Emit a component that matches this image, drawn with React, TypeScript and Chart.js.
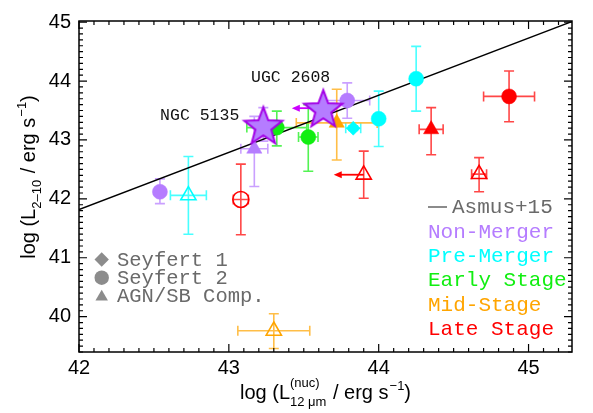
import { useEffect, useRef } from "react";
import { Chart, registerables } from "chart.js";
Chart.register(...registerables);

// ---- axis ranges / ticks ----
const xRange = [42, 45.29];
const yRange = [39.4, 45.02];
const xTickValues = [42, 43, 44, 45];
const yTickValues = [40, 41, 42, 43, 44, 45];

// ---- Asmus+15 relation (two end points) ----
const asmusX = [42, 45.3];
const asmusY = [41.82, 45.02];

// ---- Non-Merger ----
const nonMergerX = [42.54, 43.17, 43.79];
const nonMergerY = [42.12, 42.85, 43.67];
const nonMergerShape = ["circle", "triangle", "circle"];
const nonMergerOpen = [false, false, false];
const nonMergerXErr = [0, 0.09, 0.15];
const nonMergerYErrUp = [0.22, 0.55, 0.3];
const nonMergerYErrDn = [0.2, 0.64, 0.3];

// ---- Pre-Merger ----
const preMergerX = [42.73, 43.83, 44.0, 44.25];
const preMergerY = [42.06, 43.2, 43.36, 44.04];
const preMergerShape = ["triangle", "rectRot", "circle", "circle"];
const preMergerOpen = [true, false, false, false];
const preMergerXErr = [0.12, 0.05, 0, 0];
const preMergerYErrUp = [0.66, 0.04, 0.47, 0.55];
const preMergerYErrDn = [0.66, 0.04, 0.47, 0.55];

// ---- Early Stage ----
const earlyX = [43.32, 43.53];
const earlyY = [43.21, 43.05];
const earlyShape = ["circle", "circle"];
const earlyOpen = [false, false];
const earlyXErr = [0.2, 0.065];
const earlyYErrUp = [0.28, 0.55];
const earlyYErrDn = [0.31, 0.58];

// ---- Mid-Stage ----
const midX = [43.72, 43.3];
const midY = [43.29, 39.76];
const midShape = ["triangle", "triangle"];
const midOpen = [false, true];
const midXErr = [0.27, 0.24];
const midYErrUp = [0.57, 0.29];
const midYErrDn = [0.63, 0.3];

// ---- Late Stage ----
const lateX = [43.08, 43.9, 44.35, 44.87, 44.67];
const lateY = [41.99, 42.41, 43.18, 43.74, 42.42];
const lateShape = ["circle", "triangle", "triangle", "circle", "triangle"];
const lateOpen = [true, true, false, false, true];
const lateXErr = [0.05, 0, 0.08, 0.17, 0.05];
const lateYErrUp = [0.6, 0.4, 0.37, 0.43, 0.28];
const lateYErrDn = [0.6, 0.4, 0.43, 0.43, 0.3];

// ---- highlighted sources (stars) ----
const starNames = ["NGC 5135", "UGC 2608"];
const starX = [43.23, 43.63];
const starY = [43.25, 43.54];
const starYErrUp = [0.3, 0.0];
const starYErrDn = [0.27, 0.0];

// ---- x upper limits (arrows) ----
const limitFromX = [43.63, 43.9];
const limitToX = [43.42, 43.7];
const limitY = [43.54, 42.41];
const limitColor = ["#cc00ff", "#ff0000"];

// ---- legends ----
const stageNames = ["Non-Merger", "Pre-Merger", "Early Stage", "Mid-Stage", "Late Stage"];
const stageColors = ["#b57cff", "#00ffff", "#11ee11", "#ffa500", "#ff0000"];
const typeNames = ["Seyfert 1", "Seyfert 2", "AGN/SB Comp."];
const typeShapes = ["rectRot", "circle", "triangle"];

const groups = [
  { name: stageNames[0], color: stageColors[0], x: nonMergerX, y: nonMergerY, shape: nonMergerShape, open: nonMergerOpen, xe: nonMergerXErr, yu: nonMergerYErrUp, yd: nonMergerYErrDn },
  { name: stageNames[1], color: stageColors[1], x: preMergerX, y: preMergerY, shape: preMergerShape, open: preMergerOpen, xe: preMergerXErr, yu: preMergerYErrUp, yd: preMergerYErrDn },
  { name: stageNames[2], color: stageColors[2], x: earlyX, y: earlyY, shape: earlyShape, open: earlyOpen, xe: earlyXErr, yu: earlyYErrUp, yd: earlyYErrDn },
  { name: stageNames[3], color: stageColors[3], x: midX, y: midY, shape: midShape, open: midOpen, xe: midXErr, yu: midYErrUp, yd: midYErrDn },
  { name: stageNames[4], color: stageColors[4], x: lateX, y: lateY, shape: lateShape, open: lateOpen, xe: lateXErr, yu: lateYErrUp, yd: lateYErrDn },
];

function hexA(hex: string, a: number) {
  const n = parseInt(hex.slice(1), 16);
  return `rgba(${(n >> 16) & 255},${(n >> 8) & 255},${n & 255},${a})`;
}

function makeStar(outer: number, fill: string, stroke: string) {
  const pad = 3;
  const size = Math.ceil(outer * 2 + pad * 2);
  const c = document.createElement("canvas");
  c.width = size;
  c.height = size;
  const ctx = c.getContext("2d")!;
  const cx = size / 2;
  const cy = size / 2 + outer * 0.09;
  ctx.beginPath();
  for (let i = 0; i < 10; i++) {
    const r = i % 2 === 0 ? outer : outer * 0.42;
    const a = -Math.PI / 2 + (i * Math.PI) / 5;
    const px = cx + r * Math.cos(a);
    const py = cy + r * Math.sin(a);
    if (i === 0) ctx.moveTo(px, py);
    else ctx.lineTo(px, py);
  }
  ctx.closePath();
  ctx.fillStyle = fill;
  ctx.fill();
  ctx.lineWidth = 2;
  ctx.strokeStyle = stroke;
  ctx.stroke();
  return c;
}

const MAIN_FONT = "20px 'Liberation Sans', Arial, sans-serif";
const SMALL_FONT = "13px 'Liberation Sans', Arial, sans-serif";
const MONO = "'Liberation Mono', 'DejaVu Sans Mono', monospace";

function drawShape(ctx: CanvasRenderingContext2D, shape: string, x: number, y: number, r: number) {
  ctx.beginPath();
  if (shape === "circle") ctx.arc(x, y, r, 0, Math.PI * 2);
  else if (shape === "rectRot") {
    ctx.moveTo(x, y - r);
    ctx.lineTo(x + r, y);
    ctx.lineTo(x, y + r);
    ctx.lineTo(x - r, y);
    ctx.closePath();
  } else {
    ctx.moveTo(x, y - r);
    ctx.lineTo(x + r * 0.866, y + r / 2);
    ctx.lineTo(x - r * 0.866, y + r / 2);
    ctx.closePath();
  }
  ctx.fill();
}

const overlay = {
  id: "overlay",
  beforeDatasetsDraw(chart: any) {
    const { ctx, scales } = chart;
    const xs = scales.x, ys = scales.y;
    const cap = 5;
    ctx.save();
    ctx.lineWidth = 1.6;
    const bars = (color: string, x: number, y: number, xe: number, yu: number, yd: number) => {
      const px = xs.getPixelForValue(x), py = ys.getPixelForValue(y);
      ctx.strokeStyle = hexA(color, 0.72);
      ctx.beginPath();
      if (yu > 0 || yd > 0) {
        const t = ys.getPixelForValue(y + yu), b = ys.getPixelForValue(y - yd);
        ctx.moveTo(px, t); ctx.lineTo(px, b);
        ctx.moveTo(px - cap, t); ctx.lineTo(px + cap, t);
        ctx.moveTo(px - cap, b); ctx.lineTo(px + cap, b);
      }
      if (xe > 0) {
        const l = xs.getPixelForValue(x - xe), r = xs.getPixelForValue(x + xe);
        ctx.moveTo(l, py); ctx.lineTo(r, py);
        ctx.moveTo(l, py - cap); ctx.lineTo(l, py + cap);
        ctx.moveTo(r, py - cap); ctx.lineTo(r, py + cap);
      }
      ctx.stroke();
    };
    groups.forEach((g) => g.x.forEach((x, i) => bars(g.color, x, g.y[i], g.xe[i], g.yu[i], g.yd[i])));
    starX.forEach((x, i) => bars(stageColors[0], x, starY[i], 0, starYErrUp[i], starYErrDn[i]));
    // upper-limit arrows
    limitFromX.forEach((fx, i) => {
      const y = ys.getPixelForValue(limitY[i]);
      const a = xs.getPixelForValue(fx), b = xs.getPixelForValue(limitToX[i]);
      ctx.strokeStyle = limitColor[i];
      ctx.fillStyle = limitColor[i];
      ctx.lineWidth = 1.8;
      ctx.beginPath();
      ctx.moveTo(a, y); ctx.lineTo(b + 6, y);
      ctx.stroke();
      ctx.beginPath();
      ctx.moveTo(b, y); ctx.lineTo(b + 8, y - 3.5); ctx.lineTo(b + 8, y + 3.5);
      ctx.closePath();
      ctx.fill();
    });
    ctx.restore();
  },
  afterDatasetsDraw(chart: any) {
    const { ctx, scales, chartArea } = chart;
    const xs = scales.x, ys = scales.y;
    ctx.save();
    // frame
    ctx.strokeStyle = "#000";
    ctx.lineWidth = 1.5;
    ctx.strokeRect(chartArea.left, chartArea.top, chartArea.right - chartArea.left, chartArea.bottom - chartArea.top);
    // ticks
    ctx.lineWidth = 1.2;
    ctx.beginPath();
    for (let k = Math.round(xRange[0] * 10); k <= xRange[1] * 10; k++) {
      const px = xs.getPixelForValue(k / 10);
      const len = k % 10 === 0 ? 8 : 4;
      ctx.moveTo(px, chartArea.bottom); ctx.lineTo(px, chartArea.bottom - len);
      ctx.moveTo(px, chartArea.top); ctx.lineTo(px, chartArea.top + len);
    }
    for (let k = Math.ceil(yRange[0] * 10); k <= yRange[1] * 10; k++) {
      const py = ys.getPixelForValue(k / 10);
      const len = k % 10 === 0 ? 8 : 4;
      ctx.moveTo(chartArea.left, py); ctx.lineTo(chartArea.left + len, py);
      ctx.moveTo(chartArea.right, py); ctx.lineTo(chartArea.right - len, py);
    }
    ctx.stroke();

    // star labels
    ctx.fillStyle = "#111";
    ctx.font = `16.5px ${MONO}`;
    ctx.textAlign = "right";
    ctx.textBaseline = "alphabetic";
    ctx.fillText(starNames[0], xs.getPixelForValue(starX[0]) - 24, ys.getPixelForValue(starY[0]) - 5);
    ctx.fillText(starNames[1], xs.getPixelForValue(starX[1]) + 7, ys.getPixelForValue(starY[1]) - 26);

    // stage legend
    ctx.textAlign = "left";
    ctx.font = `21px ${MONO}`;
    ctx.fillStyle = "#6a6a6a";
    ctx.strokeStyle = "#5a5a5a";
    ctx.lineWidth = 1.4;
    ctx.beginPath();
    ctx.moveTo(428, 207); ctx.lineTo(447, 207);
    ctx.stroke();
    ctx.fillText("Asmus+15", 452, 213);
    stageNames.forEach((n, i) => {
      ctx.fillStyle = stageColors[i];
      ctx.fillText(n, 428, 237.7 + i * 24.3);
    });

    // type legend
    ctx.font = `20.5px ${MONO}`;
    typeNames.forEach((n, i) => {
      const y = 259.5 + i * 18.2;
      ctx.fillStyle = "#8c8c8c";
      drawShape(ctx, typeShapes[i], 101.7, typeShapes[i] === "triangle" ? y + 1 : y, 7.2);
      ctx.fillStyle = "#6a6a6a";
      ctx.fillText(n, 117, y + 6.3);
    });

    // axis titles with sub/superscripts
    const drawTitle = (segs: [string, string][], baseY: number, centerX: number) => {
      const w = (f: string, t: string) => { ctx.font = f; return ctx.measureText(t).width; };
      let total = 0;
      segs.forEach(([k, t]) => {
        if (k === "m") total += w(MAIN_FONT, t);
        else if (k === "ss") { const [a, b] = t.split("|"); total += Math.max(w(SMALL_FONT, a), w(SMALL_FONT, b)) + 1; }
        else total += w(SMALL_FONT, t) + 1;
      });
      let x = centerX - total / 2;
      ctx.textAlign = "left";
      ctx.fillStyle = "#000";
      segs.forEach(([k, t]) => {
        if (k === "m") { ctx.font = MAIN_FONT; ctx.fillText(t, x, baseY); x += ctx.measureText(t).width; }
        else if (k === "ss") {
          const [a, b] = t.split("|");
          ctx.font = SMALL_FONT;
          ctx.fillText(a, x, baseY - 12);
          ctx.fillText(b, x, baseY + 7);
          x += Math.max(ctx.measureText(a).width, ctx.measureText(b).width) + 1;
        } else if (k === "sub") { ctx.font = SMALL_FONT; ctx.fillText(t, x, baseY + 6); x += ctx.measureText(t).width + 1; }
        else { ctx.font = SMALL_FONT; ctx.fillText(t, x + 1, baseY - 9); x += ctx.measureText(t).width + 1; }
      });
    };
    const segsX: [string, string][] = [["m", "log (L"], ["ss", "(nuc)|12 \u03bcm"], ["m", " / erg s"], ["sup", "\u22121"], ["m", ")"]];
    drawTitle(segsX, 399, (chartArea.left + chartArea.right) / 2);
    ctx.save();
    ctx.translate(35, 177);
    ctx.rotate(-Math.PI / 2);
    const segsY: [string, string][] = [["m", "log (L"], ["sub", "2\u201310"], ["m", " / erg s"], ["sup", "\u22121"], ["m", ")"]];
    drawTitle(segsY, 0, 0);
    ctx.restore();
    ctx.restore();
  },
};

export default function App() {
  const ref = useRef<HTMLCanvasElement>(null);
  useEffect(() => {
    document.body.style.margin = "0";
    const canvas = ref.current!;
    const star = makeStar(20, "#b57cff", "#a300e6");
    const radiusFor = (s: string, open: boolean) => (s === "circle" ? (open ? 8 : 7.5) : s === "triangle" ? 8.8 : 7);
    const datasets: any[] = [
      {
        type: "scatter",
        label: "stars",
        data: starX.map((x, i) => ({ x, y: starY[i] })),
        pointStyle: star,
        pointRadius: 20,
      },
      ...groups.map((g) => ({
        type: "scatter",
        label: g.name,
        data: g.x.map((x, i) => ({ x, y: g.y[i] })),
        pointStyle: g.shape,
        pointRadius: g.shape.map((s, i) => radiusFor(s, g.open[i])),
        backgroundColor: g.open.map((o) => (o ? "rgba(0,0,0,0)" : g.color)),
        borderColor: g.color,
        borderWidth: g.open.map((o) => (o ? 1.6 : 0.5)),
      })),
      {
        type: "line",
        label: "Asmus+15",
        data: asmusX.map((x, i) => ({ x, y: asmusY[i] })),
        borderColor: "#000",
        borderWidth: 1.5,
        pointRadius: 0,
        fill: false,
      },
    ];
    const chart = new Chart(canvas, {
      type: "scatter",
      data: { datasets },
      options: {
        responsive: false,
        animation: false,
        events: [],
        layout: { padding: { left: 0, right: 14, top: 10, bottom: 0 } },
        plugins: { legend: { display: false }, tooltip: { enabled: false } },
        scales: {
          x: {
            type: "linear",
            min: xRange[0],
            max: xRange[1],
            grid: { display: false, drawTicks: false },
            border: { display: false },
            afterBuildTicks: (s: any) => { s.ticks = xTickValues.map((v) => ({ value: v })); },
            afterFit: (s: any) => { s.height = 61; s.paddingLeft = 0; s.paddingRight = 0; },
            ticks: { padding: 4, color: "#000", font: { family: "'Liberation Sans', Arial, sans-serif", size: 20 }, maxRotation: 0 },
          },
          y: {
            type: "linear",
            min: yRange[0],
            max: yRange[1],
            grid: { display: false, drawTicks: false },
            border: { display: false },
            afterBuildTicks: (s: any) => { s.ticks = yTickValues.map((v) => ({ value: v })); },
            afterFit: (s: any) => { s.width = 79; s.paddingTop = 0; s.paddingBottom = 0; },
            ticks: { padding: 8, color: "#000", font: { family: "'Liberation Sans', Arial, sans-serif", size: 20 } },
          },
        },
      },
      plugins: [overlay],
    });
    return () => chart.destroy();
  }, []);
  return <canvas ref={ref} width={593} height={413} style={{ display: "block" }} />;
}
